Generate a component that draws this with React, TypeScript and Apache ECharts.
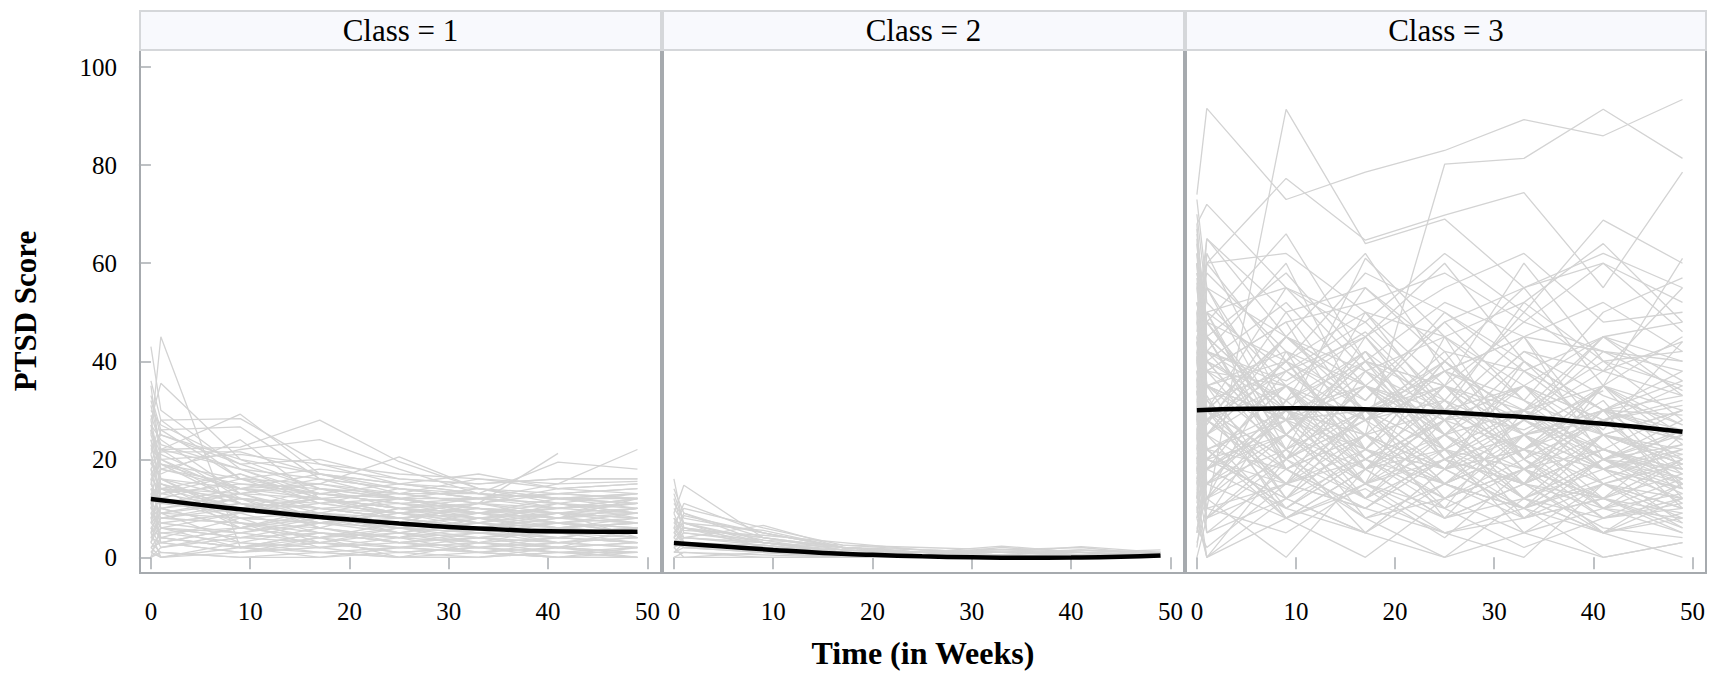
import React, { useEffect, useRef } from "react";
import * as echarts from "echarts";

// Measurement weeks for each subject's trajectory
const TIMES = [0, 1, 9, 17, 25, 33, 41, 49];
// Weeks at which the fitted mean curves are read
const MEAN_TIMES = [0, 5, 10, 15, 20, 25, 30, 35, 40, 45, 49];

const PANEL_TITLES = ["Class = 1", "Class = 2", "Class = 3"];
const X_TICKS = [0, 10, 20, 30, 40, 50];
const Y_TICKS = [0, 20, 40, 60, 80, 100];
const X_TITLE = "Time (in Weeks)";
const Y_TITLE = "PTSD Score";

// Individual PTSD trajectories, class 1
const class1Subjects: (number | null)[][] = [
  [43, 30, 18, 12, 10, 8, 9, 7],
  [25, 45, 2, 5, 3, 4, 2, 3],
  [28, 35.5, 20, 14, 12, 9, 8, 10],
  [15, 22, 29.2, 17, 14, 12, 11, 9],
  [21, 28, 28.3, 19, 15, 13, 10, 12],
  [33, 26, 26.6, 16, 12, 9, 7, 8],
  [18, 22, 22.5, 28, 19.5, 14, 13, 12],
  [10, 18, 22, 24, 18, 13, 12, 11],
  [12, 16, 14, 15, 20.5, 14, 11, 13],
  [14, 13, 15, 13, 15, 17, 14, 15],
  [8, 10, 12, 11, 9, 11, 21.2, null],
  [11, 14, 13, 12, 10, 12, 15, 22],
  [9, 12, 10, 14, 13, 13, 19.4, 18],
  [30, 27, 19, 20, 16, 15, 16, 16],
  [22, 20, 21, 19, 17, 16, 15, 15.5],
  [27, 24, 13, 15, 12, 12, 13, 14],
  [35, 20, 11, 10, 8, 6, 7, 5],
  [12, 21.5, 21.5, 17, 15, 13, 12, 13],
  [19, 17, 24, 12, 10, 11, 9, 8],
  [6, 9, 8, 7, 6, 5, 6, 4],
  [16, 14, 10, 9, 8, 10, 7, 6],
  [25, 19, 16, 11, 14, 12, 10, 11],
  [4, 6, 5, 3, 2, 4, 3, 2],
  [2, 3, 1, 2, 0, 1, 0, 1],
  [0, 2, 4, 3, 5, 2, 3, 4],
  [10, 8, 7, 6, 4, 5, 3, 5],
  [14, 11, 9, 13, 11, 8, 9, 10],
  [7, 5, 6, 9, 7, 6, 8, 7],
  [5, 0, 3, 1, 2, 3, 1, 0],
  [13, 15, 11, 8, 6, 7, 5, 6],
  [20, 16, 12, 10, 9, 8, 10, 9],
  [3, 7, 9, 5, 4, 3, 6, 5],
  [17, 12, 8, 7, 10, 9, 8, 12],
  [9, 6, 4, 5, 3, 2, 4, 3],
  [1, 0, 2, 0, 1, 0, 2, 0],
  [24, 18, 15, 14, 12, 10, 9, 8],
  [11, 9, 12, 10, 11, 9, 10, 11],
  [6, 4, 2, 3, 1, 2, 1, 2],
  [15, 10, 6, 4, 5, 3, 2, 1],
  [29, 23, 18, 16, 14, 13, 12, 12],
  [8, 13, 10, 12, 9, 11, 13, 14],
  [0, 1, 0, 0, 2, 1, 0, 0],
  [12, 7, 5, 8, 6, 4, 5, 4],
  [18, 14, 17, 11, 9, 7, 6, 7],
  [4, 3, 6, 4, 7, 5, 4, 6],
  [26, 21, 14, 13, 11, 12, 11, 10],
  [7, 9, 11, 7, 8, 6, 7, 9],
  [2, 5, 3, 6, 4, 8, 5, 3],
  [13, 12, 16, 15, 13, 11, 14, 13],
  [5, 8, 7, 2, 3, 1, 3, 2],
  [32, 25, 20, 17, 15, 14, 12, 11],
  [10, 6, 9, 11, 12, 10, 8, 9],
  [3, 1, 0, 1, 0, 0, 1, 0],
  [16, 19, 14, 12, 13, 11, 10, 11],
  [23, 15, 10, 9, 7, 8, 6, 7],
  [19, 26, 16, 18, 16, 15, 16, 16],
  [11, 4, 8, 3, 6, 9, 12, 13],
  [0, 6, 2, 4, 0, 3, 2, 6],
  [31, 22, 12, 8, 6, 5, 4, 3],
  [20, 12, 7, 5, 4, 6, 3, 4],
  [9, 4, 2, 1, 0, 0, 1, 1],
  [17, 20, 13, 9, 7, 6, 8, 10],
  [6, 2, 5, 7, 9, 6, 4, 3],
  [27, 16, 9, 12, 10, 9, 11, 8],
  [14, 8, 11, 6, 3, 5, 7, 6],
  [3, 10, 6, 8, 5, 7, 9, 11],
  [22, 25, 19, 14, 10, 8, 7, 5],
  [11, 16, 8, 9, 12, 14, 12, 10],
  [8, 3, 1, 4, 2, 1, 0, 2],
  [36, 28, 16, 13, 12, 10, 9, 9],
  [15, 11, 13, 16, 14, 12, 13, 12],
  [5, 11, 14, 10, 8, 9, 6, 8],
  [24, 14, 6, 9, 5, 4, 6, 5],
  [2, 0, 1, 3, 1, 2, 0, 0],
  [19, 22, 18, 13, 11, 10, 9, 8],
  [13, 9, 3, 2, 4, 1, 2, 1],
  [28, 18, 14, 17, 13, 16, 14, 15],
  [7, 14, 12, 6, 10, 7, 11, 9],
  [16, 6, 4, 7, 5, 8, 6, 7],
  [4, 8, 10, 12, 9, 10, 8, 7],
  [21, 13, 17, 12, 8, 9, 10, 12],
  [10, 15, 7, 4, 6, 3, 4, 6],
  [12, 3, 6, 10, 8, 6, 9, 4],
  [26, 19, 11, 7, 9, 7, 5, 6],
  [1, 4, 2, 5, 3, 4, 2, 3],
  [18, 10, 13, 8, 7, 11, 8, 10],
];

// Individual PTSD trajectories, class 2
const class2Subjects: (number | null)[][] = [
  [16, 6, 3, 1, 1, 0.5, 1, 0.5],
  [9, 14.7, 4, 2, 1, 1, 0.5, 0],
  [7, 10, 6, 2.5, 1.5, 1, 1, 1.5],
  [5, 8.5, 5, 2, 1, 1.5, 2, 0.5],
  [12, 5, 3, 1.5, 1, 0.5, 0, 0],
  [3, 4, 6.5, 2, 1, 1, 0.5, 1],
  [6, 7, 3, 1, 0.5, 2, 1, 0],
  [2, 3, 2, 1, 0, 0, 0, 0],
  [4, 2, 1, 0, 0, 0.5, 0, 0],
  [8, 6, 4, 2, 1.5, 1, 1.5, 1],
  [1, 2, 1, 0.5, 0, 0, 0, 0],
  [0, 1, 0, 0, 0, 0, 0, 0],
  [10, 7, 2, 1, 0, 0, 0, 0],
  [3, 5, 3.5, 2.5, 2, 1.5, 1, 0.5],
  [6, 4, 2.5, 1, 1, 0, 0.5, 0],
  [2, 0, 1, 0, 1, 0, 0, 0.5],
  [5, 3, 1.5, 0.5, 0.5, 0, 0, 0],
  [7, 5.5, 4.5, 3, 1.5, 1, 2.2, 1],
  [4, 6, 2, 1.5, 1, 1, 0.5, 0],
  [1, 1, 0.5, 0, 0, 0.5, 0, 0],
  [9, 4, 3, 2, 1, 0.5, 0, 0],
  [3, 2, 2, 1, 0.5, 0, 1, 0],
  [11, 8, 5, 2, 1, 0.5, 0, 0],
  [0, 0, 0, 0, 0, 0, 0, 0],
  [6, 3, 1, 0, 0, 0, 0, 0],
  [2, 4, 3, 1, 0, 0, 0, 0],
  [5, 7, 5.5, 2, 1, 2.3, 1, 0.5],
  [14, 9, 4, 1.5, 0.5, 0, 0.5, 1],
  [4, 9, 3, 1, 0.5, 0, 0, 0],
  [8, 3, 2, 1, 0.5, 0.5, 0, 0],
  [3, 6, 4, 1.5, 1, 0.5, 1.5, 0.5],
  [13, 7, 3.5, 1, 0, 0, 0, 0],
  [1, 3, 2.5, 1, 0.5, 0, 0, 0.5],
  [6, 11, 5, 2, 1, 0.5, 0, 0],
];

// Individual PTSD trajectories, class 3
const class3Subjects: (number | null)[][] = [
  [74, 91.6, 73, 78.6, 83, 89.3, 86, 93.4],
  [20, 10, 91.4, 64, 69, 55, 62, 55],
  [45, 50, 38, 25, 80.2, 81.4, 91.4, 81.4],
  [55, 60, 77.3, 64.7, 69.8, 74.4, 55, 78.6],
  [68, 72, 55, 48, 62, 50, 68.8, 60],
  [40, 65, 45, 62, 38, 30, 35, 61],
  [30, 48, 66, 40, 52, 45, 42, 38],
  [62, 35, 28, 61, 45, 32, 50, 57],
  [50, 58, 42, 35, 30, 52, 64, 48],
  [35, 27, 50, 55, 42, 38, 30, 25],
  [25, 40, 32, 18, 28, 42, 38, 44],
  [58, 45, 20, 30, 15, 22, 18, 12],
  [12, 30, 55, 45, 60, 40, 25, 30],
  [42, 20, 35, 22, 40, 28, 45, 33],
  [28, 55, 25, 40, 20, 15, 12, 20],
  [65, 30, 45, 38, 25, 35, 22, 18],
  [18, 8, 22, 50, 35, 60, 40, 35],
  [38, 42, 60, 28, 32, 20, 28, 15],
  [48, 25, 15, 20, 10, 18, 25, 22],
  [22, 35, 40, 32, 48, 55, 60, 52],
  [33, 62, 30, 15, 22, 12, 8, 10],
  [10, 18, 28, 35, 25, 30, 20, 28],
  [52, 38, 48, 52, 58, 48, 42, 40],
  [15, 5, 12, 25, 18, 10, 15, 8],
  [70, 52, 35, 28, 40, 25, 30, 24],
  [27, 45, 18, 10, 5, 8, 12, 6],
  [5, 15, 32, 42, 30, 22, 35, 45],
  [44, 28, 38, 45, 55, 62, 48, 50],
  [36, 50, 22, 30, 12, 5, 0, 3],
  [60, 40, 52, 35, 28, 42, 33, 27],
  [8, 22, 10, 5, 15, 25, 18, 14],
  [32, 12, 42, 18, 35, 28, 20, 16],
  [46, 60, 62, 50, 45, 35, 28, 32],
  [20, 28, 15, 38, 22, 18, 30, 20],
  [55, 35, 25, 12, 20, 30, 15, 10],
  [14, 0, 20, 28, 8, 15, 22, 18],
  [38, 22, 30, 25, 38, 45, 52, 42],
  [66, 48, 40, 58, 50, 38, 45, 36],
  [24, 38, 48, 22, 18, 25, 10, 13],
  [3, 10, 5, 15, 25, 12, 5, 0],
  [50, 32, 18, 28, 42, 20, 35, 30],
  [28, 18, 38, 48, 32, 50, 38, 55],
  [40, 55, 30, 42, 20, 10, 16, 22],
  [18, 42, 25, 15, 30, 35, 28, 24],
  [62, 45, 58, 40, 35, 48, 60, 46],
  [30, 15, 8, 0, 12, 20, 8, 12],
  [48, 38, 20, 35, 48, 32, 25, 19],
  [9, 25, 45, 30, 40, 28, 42, 34],
  [35, 60, 40, 22, 15, 28, 18, 26],
  [26, 32, 12, 20, 28, 8, 20, 15],
  [56, 28, 35, 45, 25, 40, 30, 38],
  [12, 35, 28, 8, 0, 5, 10, 8],
  [42, 50, 55, 38, 45, 52, 40, 28],
  [22, 12, 0, 18, 22, 30, 25, 21],
  [68, 40, 30, 20, 32, 18, 28, 17],
  [16, 20, 35, 28, 38, 20, 12, 25],
  [30, 45, 20, 45, 28, 35, 45, 40],
  [45, 22, 28, 15, 8, 12, 20, 11],
  [6, 2, 15, 10, 20, 15, 6, 4],
  [52, 42, 32, 55, 40, 28, 38, 33],
  [38, 28, 45, 32, 50, 40, 30, 36],
  [24, 50, 18, 25, 15, 22, 32, 14],
  [60, 35, 42, 30, 38, 45, 25, 20],
  [0, 8, 20, 12, 5, 0, 15, 10],
  [34, 20, 25, 38, 30, 15, 22, 30],
  [48, 65, 50, 28, 35, 30, 40, 42],
  [15, 30, 10, 20, 12, 25, 35, 27],
  [58, 48, 25, 42, 22, 35, 18, 23],
  [28, 38, 35, 15, 45, 20, 10, 16],
  [40, 15, 30, 35, 20, 30, 45, 48],
  [20, 25, 40, 50, 30, 45, 20, 18],
  [73, 55, 45, 35, 28, 22, 30, 26],
  [36, 48, 28, 22, 40, 55, 35, 25],
  [10, 20, 15, 30, 35, 20, 28, 31],
  [44, 32, 38, 28, 18, 38, 26, 44],
  [26, 8, 32, 40, 25, 12, 18, 7],
  [64, 42, 36, 46, 30, 26, 34, null],
  [17, 33, 8, 14, 4, 18, 12, 9],
  [12, 25, 8, 18, 30, 15, 5, 12],
  [30, 5, 18, 8, 15, 22, 10, 5],
  [20, 35, 12, 25, 10, 2, 8, 15],
  [8, 15, 25, 12, 20, 8, 15, 20],
  [38, 18, 10, 22, 12, 18, 5, 9],
  [15, 40, 22, 5, 18, 10, 20, 13],
  [25, 12, 30, 18, 8, 25, 12, 17],
  [42, 30, 15, 10, 22, 5, 15, 6],
  [5, 20, 12, 30, 15, 10, 25, 19],
  [18, 28, 40, 20, 12, 18, 8, 11],
  [34, 15, 22, 35, 20, 28, 18, 22],
  [22, 45, 30, 12, 25, 15, 22, 16],
  [10, 0, 8, 15, 5, 10, 0, 3],
  [28, 20, 12, 5, 18, 22, 28, 24],
  [50, 25, 35, 20, 15, 10, 20, 14],
  [16, 30, 20, 28, 35, 18, 12, 20],
  [40, 22, 18, 25, 30, 22, 15, 12],
  [6, 12, 25, 15, 10, 30, 22, 17],
  [32, 48, 25, 18, 8, 15, 10, 20],
  [24, 10, 15, 30, 22, 12, 20, 25],
  [45, 35, 28, 15, 20, 25, 18, 14],
  [14, 22, 10, 20, 28, 35, 25, 30],
  [60, 30, 20, 35, 25, 18, 22, 16],
  [2, 18, 30, 22, 15, 8, 12, 5],
  [36, 25, 40, 30, 18, 22, 35, 23],
  [18, 8, 15, 22, 35, 25, 15, 19],
  [52, 40, 22, 12, 28, 30, 20, 26],
  [26, 42, 35, 25, 15, 10, 5, 8],
  [11, 28, 18, 10, 20, 15, 30, 12],
  [44, 18, 25, 40, 32, 25, 28, 35],
  [21, 30, 45, 35, 22, 30, 18, 21],
  [8, 0, 12, 5, 0, 12, 5, 15],
  [35, 22, 8, 18, 25, 15, 35, 18],
  [67, 45, 30, 25, 18, 28, 22, 15],
  [19, 35, 22, 30, 38, 32, 20, 23],
  [29, 12, 20, 8, 12, 18, 12, 7],
  [41, 28, 15, 25, 18, 40, 30, 29],
  [13, 20, 35, 18, 28, 12, 25, 10],
  [57, 38, 28, 30, 22, 15, 25, 19],
  [23, 18, 28, 40, 35, 25, 30, 33],
];

// Fitted mean trajectories (read at MEAN_TIMES)
const class1Mean = [11.9, 10.7, 9.6, 8.6, 7.7, 6.9, 6.2, 5.7, 5.3, 5.2, 5.2];
const class2Mean = [2.9, 2.2, 1.5, 0.9, 0.5, 0.2, 0.0, -0.1, -0.05, 0.1, 0.35];
const class3Mean = [30.0, 30.3, 30.4, 30.3, 30.0, 29.6, 29.0, 28.3, 27.4, 26.5, 25.6];

const FONT = "'Liberation Serif', 'DejaVu Serif', serif";

export default function App() {
  const ref = useRef<HTMLDivElement>(null);

  useEffect(() => {
    if (!ref.current) return;
    const chart = echarts.init(ref.current, null, { renderer: "svg" });

    const subjectsByClass = [class1Subjects, class2Subjects, class3Subjects];
    const meansByClass = [class1Mean, class2Mean, class3Mean];

    const lefts = [140, 663, 1186];
    const widths = [521, 521, 520];
    const top = 50;
    const height = 523;
    const xMin = -1.1;
    const xMax = 51.37;
    const yMin = -3.2;
    const yMax = 103.5;

    const grids = lefts.map((l, i) => ({
      left: l,
      top,
      width: widths[i],
      height,
      show: true,
      borderColor: "#a6aaae",
      borderWidth: 2,
      backgroundColor: "transparent",
    }));

    const xAxes = lefts.map((_, i) => ({
      type: "value",
      gridIndex: i,
      min: xMin,
      max: xMax,
      axisLine: { show: false },
      splitLine: { show: false },
      axisTick: {
        show: true,
        inside: false,
        length: 12,
        customValues: X_TICKS,
        lineStyle: { color: "#a9adb1", width: 1.5 },
      },
      axisLabel: {
        customValues: X_TICKS,
        margin: 26,
        fontSize: 25,
        fontFamily: FONT,
        color: "#000",
      },
    }));

    const yAxes = lefts.map((_, i) => ({
      type: "value",
      gridIndex: i,
      min: yMin,
      max: yMax,
      axisLine: { show: false },
      splitLine: { show: false },
      axisTick: {
        show: i === 0,
        inside: false,
        length: 12,
        customValues: Y_TICKS,
        lineStyle: { color: "#a9adb1", width: 1.5 },
      },
      axisLabel: {
        show: i === 0,
        customValues: Y_TICKS,
        margin: 23,
        fontSize: 25,
        fontFamily: FONT,
        color: "#000",
      },
    }));

    const series: any[] = [];
    subjectsByClass.forEach((subjects, ci) => {
      subjects.forEach((s) => {
        const data: number[][] = [];
        TIMES.forEach((t, k) => {
          const v = s[k];
          if (v !== null && v !== undefined) data.push([t, v]);
        });
        series.push({
          type: "line",
          xAxisIndex: ci,
          yAxisIndex: ci,
          data,
          symbol: "none",
          silent: true,
          z: 2,
          lineStyle: { color: "#d3d3d3", width: 1.3 },
        });
      });
    });
    meansByClass.forEach((m, ci) => {
      series.push({
        type: "line",
        xAxisIndex: ci,
        yAxisIndex: ci,
        data: MEAN_TIMES.map((t, k) => [t, m[k]]),
        symbol: "none",
        smooth: true,
        silent: true,
        z: 5,
        lineStyle: { color: "#000", width: 4.5 },
      });
    });

    const graphics: any[] = [];
    lefts.forEach((l, i) => {
      graphics.push({
        type: "rect",
        shape: { x: l, y: 11, width: widths[i], height: 39 },
        style: { fill: "#f8f9fd", stroke: "#d5d7da", lineWidth: 2 },
        z: 1,
      });
      graphics.push({
        type: "text",
        x: l + widths[i] / 2,
        y: 30,
        style: {
          text: PANEL_TITLES[i],
          fontSize: 31,
          fontFamily: FONT,
          fill: "#000",
          align: "center",
          verticalAlign: "middle",
        },
        z: 2,
      });
    });
    graphics.push({
      type: "text",
      x: 923,
      y: 653,
      style: {
        text: X_TITLE,
        fontSize: 32,
        fontWeight: "bold",
        fontFamily: FONT,
        fill: "#000",
        align: "center",
        verticalAlign: "middle",
      },
    });
    graphics.push({
      type: "text",
      x: 25,
      y: 311,
      rotation: Math.PI / 2,
      style: {
        text: Y_TITLE,
        fontSize: 31,
        fontWeight: "bold",
        fontFamily: FONT,
        fill: "#000",
        align: "center",
        verticalAlign: "middle",
      },
    });

    chart.setOption({
      animation: false,
      backgroundColor: "#fff",
      grid: grids,
      xAxis: xAxes,
      yAxis: yAxes,
      series,
      graphic: graphics,
    });

    return () => chart.dispose();
  }, []);

  return (
    <div
      ref={ref}
      style={{ position: "fixed", left: 0, top: 0, width: 1721, height: 677, background: "#fff" }}
    />
  );
}
